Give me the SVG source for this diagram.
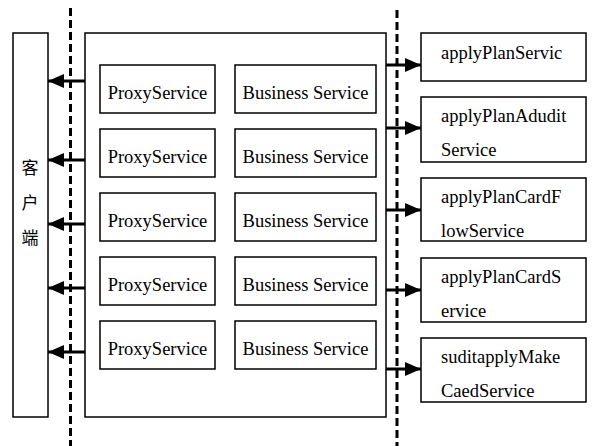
<svg xmlns="http://www.w3.org/2000/svg" width="597" height="446" viewBox="0 0 597 446">
<style>
.box{fill:#fff;stroke:#000;stroke-width:1.5}
.frame{fill:none;stroke:#000;stroke-width:1.5}
.t{font-family:"Liberation Serif","Times New Roman",serif;font-size:18.5px;fill:#000}
.c{text-anchor:middle}
.cjk{font-family:"Noto Sans CJK SC",sans-serif;font-size:17px;fill:#000;text-anchor:middle}
.dash{stroke:#000;stroke-width:3;stroke-dasharray:8 4;fill:none}
.arr{stroke:#000;stroke-width:3;fill:none;marker-end:url(#ah)}
</style>
<defs>
<marker id="ah" viewBox="0 0 16 14" refX="16" refY="7" markerWidth="16" markerHeight="14" markerUnits="userSpaceOnUse" orient="auto">
<path d="M0,0 L16,7 L0,14 z" fill="#000"/>
</marker>
</defs>
<rect width="597" height="446" fill="#fff"/>
<g id="dividers">
<line class="dash" x1="70.5" y1="8" x2="70.5" y2="446"/>
<line class="dash" x1="397" y1="10" x2="397" y2="446"/>
</g>
<g id="client">
<rect class="box" x="13" y="33" width="35" height="384"/>
<text class="cjk" x="30" y="174">客</text>
<text class="cjk" x="30" y="209">户</text>
<text class="cjk" x="30" y="244">端</text>
</g>
<g id="container">
<rect class="frame" x="85" y="33" width="301" height="384"/>
</g>
<g id="proxy1"><rect class="box" x="100" y="65" width="115" height="48"/><text class="t c" x="157.5" y="98.5">ProxyService</text></g>
<g id="proxy2"><rect class="box" x="100" y="129" width="115" height="48"/><text class="t c" x="157.5" y="162.5">ProxyService</text></g>
<g id="proxy3"><rect class="box" x="100" y="193" width="115" height="48"/><text class="t c" x="157.5" y="226.5">ProxyService</text></g>
<g id="proxy4"><rect class="box" x="100" y="257" width="115" height="48"/><text class="t c" x="157.5" y="290.5">ProxyService</text></g>
<g id="proxy5"><rect class="box" x="100" y="321" width="115" height="48"/><text class="t c" x="157.5" y="354.5">ProxyService</text></g>
<g id="business1"><rect class="box" x="235" y="65" width="141" height="48"/><text class="t c" x="305.5" y="98.5">Business Service</text></g>
<g id="business2"><rect class="box" x="235" y="129" width="141" height="48"/><text class="t c" x="305.5" y="162.5">Business Service</text></g>
<g id="business3"><rect class="box" x="235" y="193" width="141" height="48"/><text class="t c" x="305.5" y="226.5">Business Service</text></g>
<g id="business4"><rect class="box" x="235" y="257" width="141" height="48"/><text class="t c" x="305.5" y="290.5">Business Service</text></g>
<g id="business5"><rect class="box" x="235" y="321" width="141" height="48"/><text class="t c" x="305.5" y="354.5">Business Service</text></g>
<g id="svc1"><rect class="box" x="421" y="33" width="165" height="48"/><text class="t" x="441" y="59">applyPlanServic</text></g>
<g id="svc2"><rect class="box" x="421" y="97" width="165" height="65"/><text class="t" x="441" y="122">applyPlanAdudit</text><text class="t" x="441" y="156">Service</text></g>
<g id="svc3"><rect class="box" x="421" y="178" width="165" height="63"/><text class="t" x="441" y="203">applyPlanCardF</text><text class="t" x="441" y="237">lowService</text></g>
<g id="svc4"><rect class="box" x="421" y="258" width="165" height="64"/><text class="t" x="441" y="283">applyPlanCardS</text><text class="t" x="441" y="317">ervice</text></g>
<g id="svc5"><rect class="box" x="421" y="338" width="165" height="64"/><text class="t" x="441" y="363">suditapplyMake</text><text class="t" x="441" y="397">CaedService</text></g>
<g id="connectors">
<line class="arr" x1="85" y1="81" x2="48" y2="81"/>
<line class="arr" x1="85" y1="160" x2="48" y2="160"/>
<line class="arr" x1="85" y1="224" x2="48" y2="224"/>
<line class="arr" x1="85" y1="288" x2="48" y2="288"/>
<line class="arr" x1="85" y1="352" x2="48" y2="352"/>
<line class="arr" x1="386" y1="65" x2="421" y2="65"/>
<line class="arr" x1="386" y1="128" x2="421" y2="128"/>
<line class="arr" x1="386" y1="210" x2="421" y2="210"/>
<line class="arr" x1="386" y1="290" x2="421" y2="290"/>
<line class="arr" x1="386" y1="369" x2="421" y2="369"/>
</g>
</svg>
